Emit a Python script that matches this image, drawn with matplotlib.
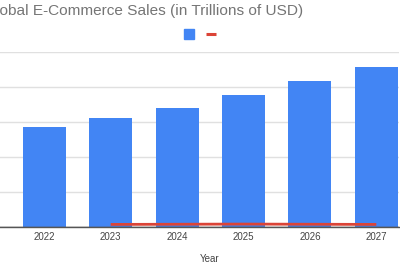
import matplotlib
matplotlib.use("Agg")
import matplotlib.pyplot as plt
from matplotlib.patches import Rectangle
from matplotlib.lines import Line2D

years = ["2022", "2023", "2024", "2025", "2026", "2027"]
sales = [5.7, 6.2, 6.8, 7.5, 8.3, 9.1]
growth_years = ["2023", "2024", "2025", "2026", "2027"]
growth = [0.13, 0.14, 0.15, 0.14, 0.13]
yticks = [0, 2, 4, 6, 8, 10]

W, H = 400, 266
fig = plt.figure(figsize=(4, 2.66), dpi=100)
fig.patch.set_facecolor("white")

ax_l, ax_r = 0 / W, 399 / W
ax_b, ax_t = (H - 226.7) / H, (H - 51.7) / H
ax = fig.add_axes([ax_l, ax_b, ax_r - ax_l, ax_t - ax_b])

x = list(range(len(years)))
ax.bar(x, sales, width=0.65, color="#4285F4", zorder=2)
gx = [years.index(y) for y in growth_years]
ax.plot(gx, growth, color="#DB4437", lw=2, zorder=3, solid_capstyle="butt")

ax.set_xlim((0 - 44.3) / 66.4, (399 - 44.3) / 66.4)
ax.set_ylim(0, 10)
ax.set_yticks(yticks)
ax.yaxis.grid(True, color="#e0e0e0", lw=1)
ax.set_axisbelow(True)
ax.tick_params(axis="y", left=False, labelleft=False)
ax.set_xticks(x)
ax.set_xticklabels(years, fontsize=7, color="#444444", family="Liberation Sans")
ax.tick_params(axis="x", length=0, pad=4)
for s in ["top", "right", "left"]:
    ax.spines[s].set_visible(False)
ax.spines["bottom"].set_color("#555555")
ax.spines["bottom"].set_linewidth(1)
ax.spines["bottom"].set_zorder(4)
ax.axhline(0, color="#555555", lw=1, zorder=4)

fig.text(210 / W, 1 - 259 / H, "Year", ha="center", va="center",
         fontsize=7, color="#444444", family="Liberation Sans")
fig.text(303 / W, 1 - 10.5 / H, "Global E-Commerce Sales (in Trillions of USD)",
         ha="right", va="center", fontsize=11.1, color="#757575",
         family="Liberation Sans")

# legend (labels empty)
fig.add_artist(Rectangle((184 / W, 1 - 39 / H), 10 / W, 10 / H,
                         transform=fig.transFigure, color="#4285F4"))
fig.add_artist(Line2D([206 / W, 216 / W], [1 - 33.5 / H, 1 - 33.5 / H],
                      transform=fig.transFigure, color="#DB4437", lw=2.2,
                      solid_capstyle="butt"))

fig.savefig("out.png", dpi=100, facecolor="white")
